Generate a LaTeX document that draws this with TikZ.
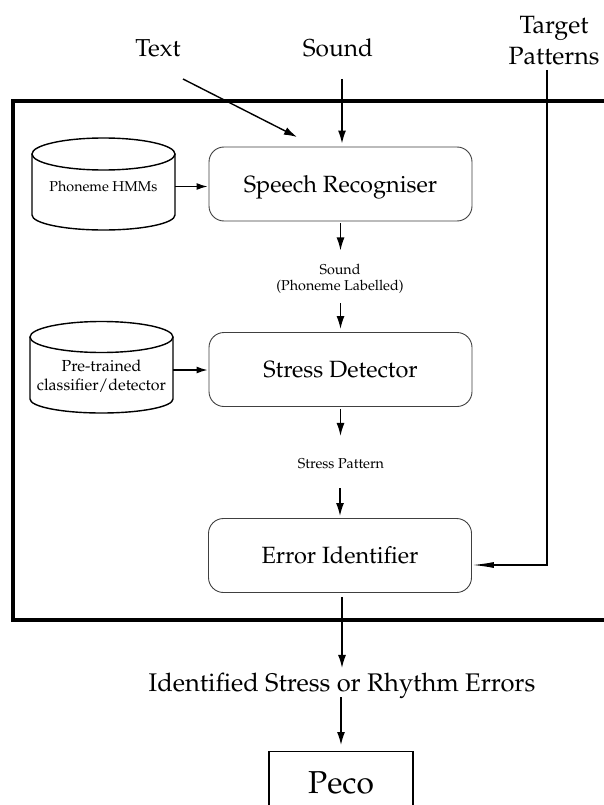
\documentclass[tikz,border=0pt]{standalone}
\usepackage[T1]{fontenc}
\usepackage{mathpazo}
\usetikzlibrary{arrows.meta}
\tikzset{
  boxnode/.style={draw=black!75, line width=0.9pt, rounded corners=15pt,
    minimum width=263pt, minimum height=74pt, inner sep=0pt,
    font=\fontsize{23.5}{28}\selectfont, text height=16.3pt, text depth=0pt},
  arr/.style={line width=1.4pt, -{Latex[length=13pt,width=8pt]}},
  arrsmall/.style={line width=1.4pt, -{Latex[length=11pt,width=7pt]}},
  arrlong/.style={line width=1.4pt, -{Latex[length=22pt,width=6pt]}},
  frame/.style={line width=3.6pt},
  cyl/.style={line width=1.4pt},
  smalltext/.style={font=\fontsize{14.3}{15.5}\selectfont, inner sep=0pt},
  toplabel/.style={font=\fontsize{24.5}{29}\selectfont, inner sep=0pt},
  biglabel/.style={font=\fontsize{25.5}{30}\selectfont, inner sep=0pt}
}
\begin{document}
\begin{tikzpicture}[x=1pt,y=-1pt]
\useasboundingbox (0,0) rectangle (604,805);
\clip (0,0) rectangle (604,805);
\fill[white] (0,0) rectangle (604,805);

% outer frame
\draw[frame] (13,101) rectangle (660,620);

% cylinders
\draw[cyl] (32,154) -- (32,215) arc[start angle=180,end angle=360,x radius=71.5pt,y radius=15pt] -- (175,154);
\draw[cyl] (103.5,154) ellipse [x radius=71.5pt, y radius=16pt];
\draw[cyl] (30,337) -- (30,399) arc[start angle=180,end angle=360,x radius=71.5pt,y radius=14pt] -- (173,337);
\draw[cyl] (101.5,337) ellipse [x radius=71.5pt, y radius=15.5pt];

\node[smalltext, minimum width=143pt, minimum height=92pt, text height=9.9pt, text depth=0pt] (hmm) at (103.5,186.5) {Phoneme HMMs};
\node[minimum width=143pt, minimum height=80pt, inner sep=0pt] (cyl2) at (101.5,370) {};
\node[font=\fontsize{16}{19}\selectfont, align=center, anchor=base, inner sep=0pt] (cyl2t) at (101.5,390.5) {Pre-trained\\classifier/detector};

% top labels
\node[toplabel, anchor=base] (txt) at (158,57) {Text};
\node[toplabel, anchor=base] (snd) at (338,57) {Sound};
\node[font=\fontsize{25}{31}\selectfont, inner sep=0pt, align=center, anchor=base] (tgt) at (554,65) {Target\\Patterns};

% main boxes
\node[boxnode] (sr) at (340.5,184) {Speech Recogniser};
\node[boxnode] (sd) at (340.5,369.5) {Stress Detector};
\node[boxnode] (ei) at (340,555.5) {Error Identifier};

% intermediate labels
\node[smalltext, align=center, anchor=base] (pl) at (340,290) {Sound\\(Phoneme Labelled)};
\node[smalltext, anchor=base] (sp) at (341,468) {Stress Pattern};
\node[biglabel, anchor=base] (ie) at (342,691) {Identified Stress or Rhythm Errors};

% Peco
\node[draw, line width=1.3pt, minimum width=144pt, minimum height=100pt, anchor=north, inner sep=0pt] (peco) at (341,751) {};
\node[font=\fontsize{31.7}{38}\selectfont, anchor=base, inner sep=0pt] (pecot) at (341,793) {Peco};

% connectors
\coordinate (t1) at (183,79);
\coordinate (t2) at (297,137);
\draw[arr] (t1) -- (t2);
\coordinate (s1) at (342,79);
\draw[arr] (s1) -- ([yshift=3pt]s1 |- sr.north);
\coordinate (p1) at (547,70);
\draw[arrlong] (p1) |- ([yshift=-9.5pt]ei.east);

\draw[arrsmall] (hmm.east) -- ([xshift=-1pt]sr.west |- hmm.east);
\draw[arrsmall] (cyl2.east) -- ([xshift=-1pt]sd.west |- cyl2.east);

\draw[arr] ([yshift=-2pt]sr.south) -- ++(0,27);
\draw[arr] ([yshift=29pt]sd.north) -- ([yshift=3pt]sd.north);
\draw[arr] ([yshift=-2pt]sd.south) -- ++(0,27);
\draw[arr] ([yshift=30pt]ei.north) -- ([yshift=2pt]ei.north);
\draw[arr] ([xshift=2pt,yshift=-4pt]ei.south) -- ++(0,71);
\draw[arr] ([yshift=54pt]peco.north) -- ([yshift=6pt]peco.north);
\end{tikzpicture}
\end{document}
